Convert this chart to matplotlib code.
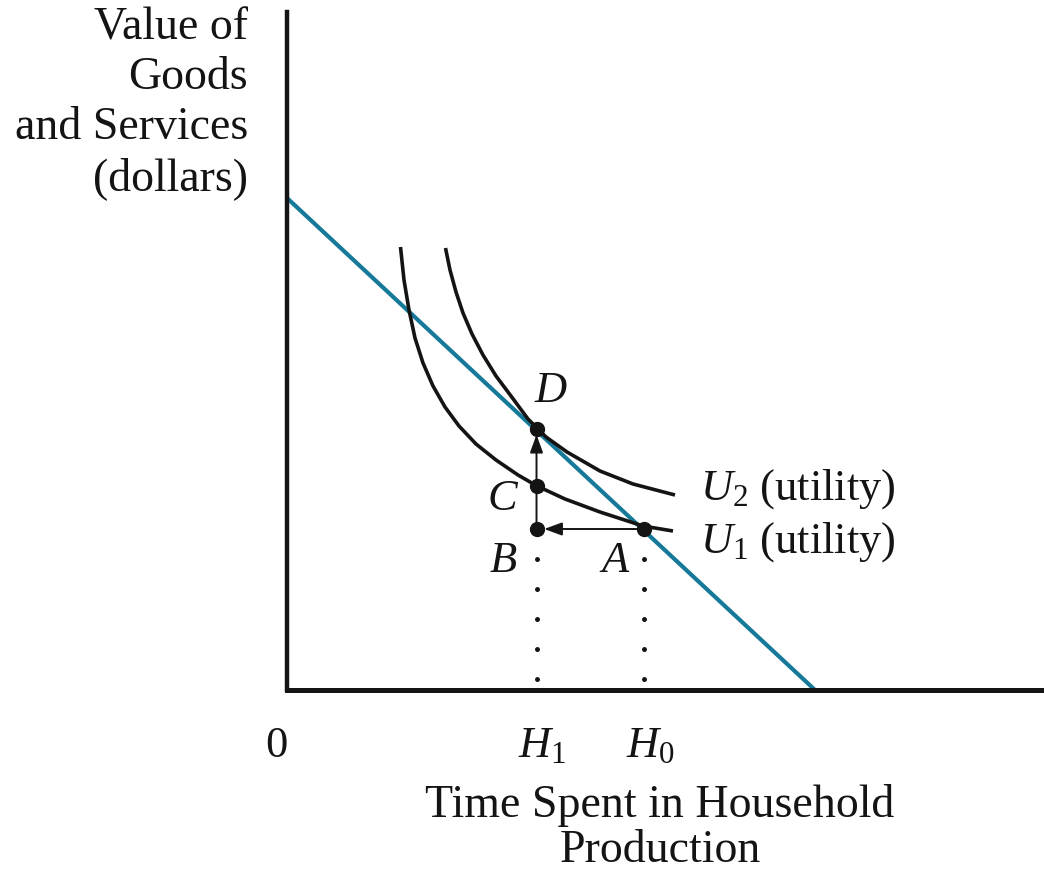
import matplotlib
matplotlib.use("Agg")
import matplotlib.pyplot as plt

# ---------------- data ----------------
budget_x = [0.0, 10.56]
budget_y = [9.84, 0.0]

u1_x = [2.27, 2.34, 2.44, 2.56, 2.72, 2.92, 3.16, 3.44, 3.78, 4.18, 4.62, 5.00, 5.56, 6.26, 7.12, 7.72]
u1_y = [8.86, 8.20, 7.60, 7.04, 6.54, 6.08, 5.66, 5.28, 4.92, 4.60, 4.30, 4.08, 3.82, 3.56, 3.28, 3.18]

u2_x = [3.17, 3.26, 3.38, 3.52, 3.70, 3.92, 4.18, 4.48, 4.82, 5.18, 5.60, 6.26, 6.92, 7.76]
u2_y = [8.84, 8.40, 7.96, 7.54, 7.12, 6.70, 6.28, 5.88, 5.42, 5.06, 4.76, 4.38, 4.12, 3.90]

point_names = ["A", "B", "C", "D"]
point_x = [7.14, 4.99, 4.99, 4.99]
point_y = [3.22, 3.22, 4.08, 5.23]

h_labels = [r"$H_1$", r"$H_0$"]
h_x = [4.99, 7.14]

curve_labels = [r"$U_1$ (utility)", r"$U_2$ (utility)"]

y_title = ["Value of", "Goods", "and Services", "(dollars)"]
x_title = ["Time Spent in Household", "Production"]

# ---------------- style ----------------
plt.rcParams["font.family"] = ["Liberation Serif", "DejaVu Serif"]
plt.rcParams["mathtext.fontset"] = "custom"
plt.rcParams["mathtext.rm"] = "Liberation Serif"
plt.rcParams["mathtext.it"] = "Liberation Serif:italic"

BLUE = "#16799a"
INK = "#141414"
FS = 32
FST = 33

W, H = 1044, 872
fig = plt.figure(figsize=(W / 100, H / 100), dpi=100)
ax = fig.add_axes([287 / W, 1 - 690 / H, (W - 287) / W, (690 - 12) / H])
ax.set_xlim(0, (W - 287) / 50)
ax.set_ylim(0, (690 - 12) / 50)
for s in ["top", "right"]:
    ax.spines[s].set_visible(False)
ax.spines["left"].set_linewidth(3.2)
ax.spines["bottom"].set_linewidth(3.6)
ax.spines["left"].set_color(INK)
ax.spines["bottom"].set_color(INK)
ax.set_xticks([])
ax.set_yticks([])
ax.patch.set_alpha(0)

# budget line and indifference curves
ax.plot(budget_x, budget_y, color=BLUE, lw=3.0, solid_capstyle="butt", zorder=2, clip_on=False)
ax.plot(u1_x, u1_y, color=INK, lw=2.6, solid_joinstyle="round", solid_capstyle="butt", zorder=3)
ax.plot(u2_x, u2_y, color=INK, lw=2.6, solid_joinstyle="round", solid_capstyle="butt", zorder=3)

A = (point_x[0], point_y[0])
B = (point_x[1], point_y[1])
C = (point_x[2], point_y[2])
D = (point_x[3], point_y[3])

# dotted drop lines
for hx, top in [(B[0], B[1]), (A[0], A[1])]:
    ax.plot([hx, hx], [top, 0], color=INK, lw=3.6, linestyle=(0, (0.01, 5.99)),
            dash_capstyle="round", zorder=2)

# arrows A->B and B->D
ax.annotate("", xy=B, xytext=A,
            arrowprops=dict(arrowstyle="-|>,head_length=0.6,head_width=0.22", color=INK,
                            lw=1.4, mutation_scale=18, shrinkA=0, shrinkB=5.5), zorder=4)
ax.annotate("", xy=D, xytext=B,
            arrowprops=dict(arrowstyle="-|>,head_length=0.6,head_width=0.22", color=INK,
                            lw=1.4, mutation_scale=18, shrinkA=0, shrinkB=4.5), zorder=4)

# points
ax.plot(point_x, point_y, "o", color=INK, ms=10, zorder=5)

# point labels
offsets = {"A": (-31, -31), "B": (-34, -31), "C": (-35, -17.3), "D": (-1.2, 19)}
for n, px, py in zip(point_names, point_x, point_y):
    ax.annotate(n, xy=(px, py), xytext=offsets[n], textcoords="offset points",
                fontsize=FS, fontstyle="italic", ha="left", va="baseline", color=INK)

# curve labels
ax.annotate(curve_labels[0], xy=(u1_x[-1], u1_y[-1]), xytext=(19.4, -15.8),
            textcoords="offset points", fontsize=FS, ha="left", va="baseline", color=INK)
ax.annotate(curve_labels[1], xy=(u2_x[-1], u2_y[-1]), xytext=(18, -3.6),
            textcoords="offset points", fontsize=FS, ha="left", va="baseline", color=INK)

# H tick labels and origin
for lab, hx in zip(h_labels, h_x):
    ax.annotate(lab, xy=(hx, 0), xytext=(-13.2, -48.2), textcoords="offset points",
                fontsize=FS, ha="left", va="baseline", color=INK, annotation_clip=False)
ax.annotate("0", xy=(0, 0), xytext=(-7.9, -48.2), textcoords="offset points",
            fontsize=FS, ha="center", va="baseline", color=INK, annotation_clip=False)

# axis titles
for line, base in zip(y_title, [39, 89, 139, 190]):
    fig.text(248 / W, 1 - base / H, line, fontsize=FST, ha="right", va="baseline", color=INK)
for line, base in zip(x_title, [817, 862]):
    fig.text(660 / W, 1 - base / H, line, fontsize=FST, ha="center", va="baseline", color=INK)

fig.savefig("out.png", dpi=100, facecolor="white")
